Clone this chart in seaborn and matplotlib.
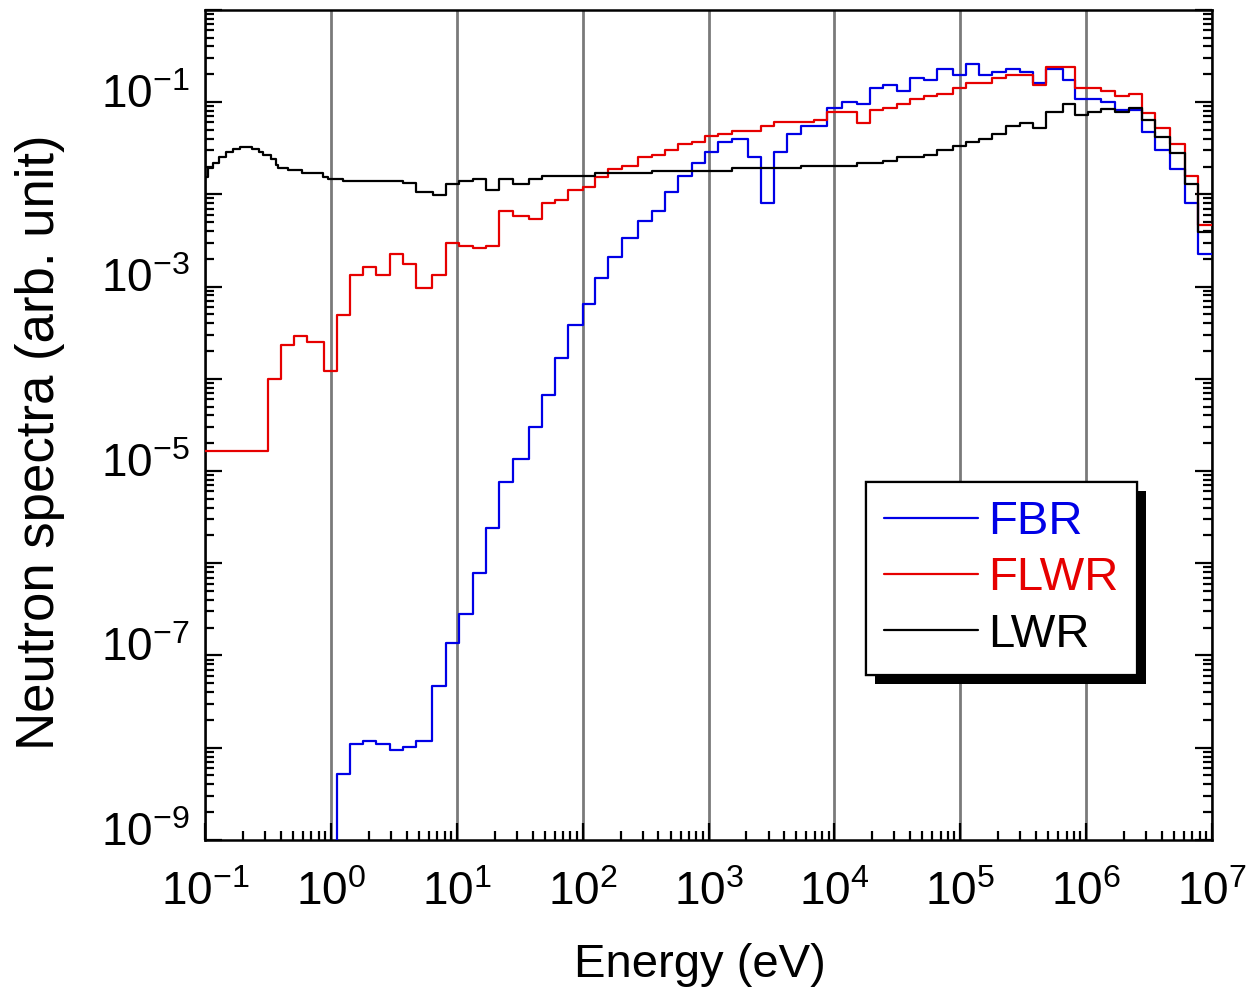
import numpy as np
import pandas as pd
import matplotlib
matplotlib.use("Agg")
import matplotlib.pyplot as plt
import matplotlib.ticker as mticker
import matplotlib.patheffects as pe
import matplotlib.transforms as mtransforms
from matplotlib.lines import Line2D
import seaborn as sns

# ---------------- data ----------------
# common energy-group boundaries, log10(E / eV)
group_edges_log = [0.046, 0.152, 0.257, 0.358, 0.469, 0.570, 0.680, 0.805, 0.914, 1.020,
                   1.126, 1.232, 1.338, 1.445, 1.576, 1.674, 1.780, 1.886, 2.000, 2.098,
                   2.203, 2.310, 2.442, 2.548, 2.654, 2.759, 2.866, 2.971, 3.077, 3.183,
                   3.310, 3.416, 3.519, 3.625, 3.731, 3.837, 3.943, 4.057, 4.176, 4.282,
                   4.388, 4.499, 4.600, 4.711, 4.812, 4.944, 5.045, 5.150, 5.256, 5.362,
                   5.473, 5.579, 5.680, 5.813, 5.910, 6.016, 6.122, 6.228, 6.339, 6.440,
                   6.550, 6.670, 6.784, 6.890, 7.000]

# FBR: one group below the axis range, then the common groups (log10 flux)
fbr_low_edges_log = [-0.055]
fbr_low_log = [-10.0]
fbr_log = [-8.28, -7.96, -7.93, -7.96, -8.02, -7.99, -7.93, -7.33, -6.86, -6.55,
           -6.11, -5.62, -5.12, -4.87, -4.52, -4.18, -3.77, -3.42, -3.19, -2.905,
           -2.68, -2.47, -2.29, -2.18, -1.98, -1.80, -1.66, -1.545, -1.43, -1.40,
           -1.60, -2.09, -1.545, -1.35, -1.26, -1.26, -1.06, -0.997, -1.025, -0.85,
           -0.82, -0.88, -0.74, -0.76, -0.645, -0.71, -0.59, -0.71, -0.67, -0.645,
           -0.67, -0.79, -0.645, -0.76, -0.967, -0.967, -0.997, -1.087, -1.087, -1.32,
           -1.52, -1.73, -2.09, -2.65]

# FLWR
flwr_low_edges_log = [-1.0, -0.502, -0.399, -0.293, -0.187, -0.055]
flwr_low_log = [-4.78, -4.00, -3.63, -3.54, -3.60, -3.92]
flwr_log = [-3.31, -2.875, -2.785, -2.875, -2.65, -2.76, -3.02, -2.875, -2.53, -2.56,
            -2.58, -2.56, -2.18, -2.24, -2.27, -2.09, -2.06, -1.95, -1.925, -1.81,
            -1.73, -1.69, -1.60, -1.575, -1.52, -1.46, -1.43, -1.37, -1.35, -1.31,
            -1.31, -1.26, -1.22, -1.22, -1.22, -1.195, -1.11, -1.11, -1.23, -1.087,
            -1.06, -1.025, -0.97, -0.94, -0.91, -0.85, -0.79, -0.79, -0.74, -0.71,
            -0.71, -0.82, -0.617, -0.617, -0.85, -0.85, -0.88, -0.94, -0.91, -1.115,
            -1.285, -1.46, -1.80, -2.33]

# LWR: finer thermal groups, then the common groups from index 8
lwr_low_edges_log = [-1.0, -0.974, -0.934, -0.886, -0.83, -0.775, -0.722, -0.63, -0.568,
                     -0.537, -0.478, -0.436, -0.418, -0.338, -0.232, -0.06, -0.02, 0.094,
                     0.575, 0.68, 0.81]
lwr_low_log = [-1.81, -1.72, -1.66, -1.60, -1.54, -1.51, -1.49, -1.51, -1.54, -1.57,
               -1.62, -1.68, -1.72, -1.74, -1.77, -1.81, -1.83, -1.86, -1.88, -1.98, -2.01]
lwr_start = 8
lwr_log = [-1.89, -1.86, -1.83, -1.95, -1.83, -1.89, -1.83, -1.80, -1.80, -1.80,
           -1.80, -1.77, -1.77, -1.77, -1.77, -1.75, -1.75, -1.75, -1.75, -1.75,
           -1.75, -1.72, -1.72, -1.72, -1.72, -1.72, -1.69, -1.69, -1.69, -1.69,
           -1.665, -1.665, -1.64, -1.60, -1.60, -1.575, -1.52, -1.48, -1.43, -1.405,
           -1.35, -1.26, -1.23, -1.285, -1.11, -1.025, -1.14, -1.11, -1.08, -1.11,
           -1.06, -1.195, -1.375, -1.55, -1.89, -2.41]

series_names = ["FBR", "FLWR", "LWR"]
series_colors = ["#0000E6", "#E60000", "#000000"]


def steps(low_edges, low_vals, start, vals):
    edges = list(low_edges) + group_edges_log[start:]
    v = list(low_vals) + list(vals)
    v = v + [v[-1]]
    return 10 ** np.array(edges), 10 ** np.array(v)


frames = []
for name, (lo_e, lo_v, st, vv) in zip(series_names, [
        (fbr_low_edges_log, fbr_low_log, 0, fbr_log),
        (flwr_low_edges_log, flwr_low_log, 0, flwr_log),
        (lwr_low_edges_log, lwr_low_log, lwr_start, lwr_log)]):
    x, y = steps(lo_e, lo_v, st, vv)
    frames.append(pd.DataFrame({"Energy": x, "Flux": y, "Reactor": name}))
df = pd.concat(frames, ignore_index=True)

# ---------------- style ----------------
sns.set_theme(style="ticks")
plt.rcParams["font.family"] = ["Liberation Sans", "DejaVu Sans"]
plt.rcParams["mathtext.default"] = "regular"
for k in ["text.color", "axes.labelcolor", "xtick.color", "ytick.color", "axes.edgecolor"]:
    plt.rcParams[k] = "black"

fig = plt.figure(figsize=(12.54, 9.89), dpi=100)
ax = fig.add_axes([0.1635, 0.1507, 0.803, 0.8394])

palette = dict(zip(series_names, series_colors))
sns.lineplot(data=df, x="Energy", y="Flux", hue="Reactor", palette=palette,
             estimator=None, sort=False, drawstyle="steps-post", lw=1.6,
             legend=False, ax=ax, zorder=3)

ax.set_xscale("log")
ax.set_yscale("log")
ax.set_xlim(1e-1, 1e7)
ax.set_ylim(1e-9, 1e0)

# ticks
ax.xaxis.set_major_locator(mticker.LogLocator(base=10, numticks=20))
ax.xaxis.set_minor_locator(mticker.LogLocator(base=10, subs=np.arange(2, 10), numticks=20))
ax.yaxis.set_major_locator(mticker.LogLocator(base=10, numticks=20))
ax.yaxis.set_minor_locator(mticker.LogLocator(base=10, subs=np.arange(2, 10), numticks=20))


def xfmt(v, pos):
    e = int(round(np.log10(v)))
    return r"$\mathdefault{10^{%d}}$" % e


def yfmt(v, pos):
    e = int(round(np.log10(v)))
    if e % 2 == 0:
        return ""
    return r"$\mathdefault{10^{%d}}$" % e


ax.xaxis.set_major_formatter(mticker.FuncFormatter(xfmt))
ax.yaxis.set_major_formatter(mticker.FuncFormatter(yfmt))
ax.xaxis.set_minor_formatter(mticker.NullFormatter())
ax.yaxis.set_minor_formatter(mticker.NullFormatter())

ax.tick_params(which="both", direction="in", top=False, right=True, width=1.6,
               color="black", labelsize=33)
ax.tick_params(axis="x", which="major", pad=22)
ax.tick_params(axis="y", which="major", pad=11)
ax.tick_params(which="major", length=12)
ax.tick_params(which="minor", length=6.5)

# lift the y tick labels slightly, as in the reference
shift = mtransforms.ScaledTranslation(0, 8 / 72, fig.dpi_scale_trans)
for lab in ax.get_yticklabels():
    lab.set_transform(lab.get_transform() + shift)

for s in ax.spines.values():
    s.set_linewidth(1.8)
    s.set_color("black")

ax.xaxis.grid(True, which="major", color="#7a7a7a", lw=2.0)
ax.yaxis.grid(False)
ax.set_axisbelow(True)

ax.set_xlabel("Energy (eV)", fontsize=34)
ax.set_ylabel("Neutron spectra (arb. unit)", fontsize=38)
ax.xaxis.set_label_coords(0.491, -0.124)
ax.yaxis.set_label_coords(-0.139, 0.479)

# legend
handles = [Line2D([], [], color=c, lw=1.6) for c in series_colors]
leg = ax.legend(handles, series_names, loc="upper left", bbox_to_anchor=(0.656, 0.431),
                borderaxespad=0, fontsize=34, handlelength=2.0, handletextpad=0.22,
                labelspacing=0.26, borderpad=0.38, fancybox=False, framealpha=1,
                edgecolor="black")
leg.get_frame().set_linewidth(1.6)
leg.get_frame().set_path_effects([
    pe.withSimplePatchShadow(offset=(6.5, -6.5), shadow_rgbFace="black", alpha=1.0),
    pe.Normal()])
for t, c in zip(leg.get_texts(), series_colors):
    t.set_color(c)

fig.savefig("out.png", dpi=100)
